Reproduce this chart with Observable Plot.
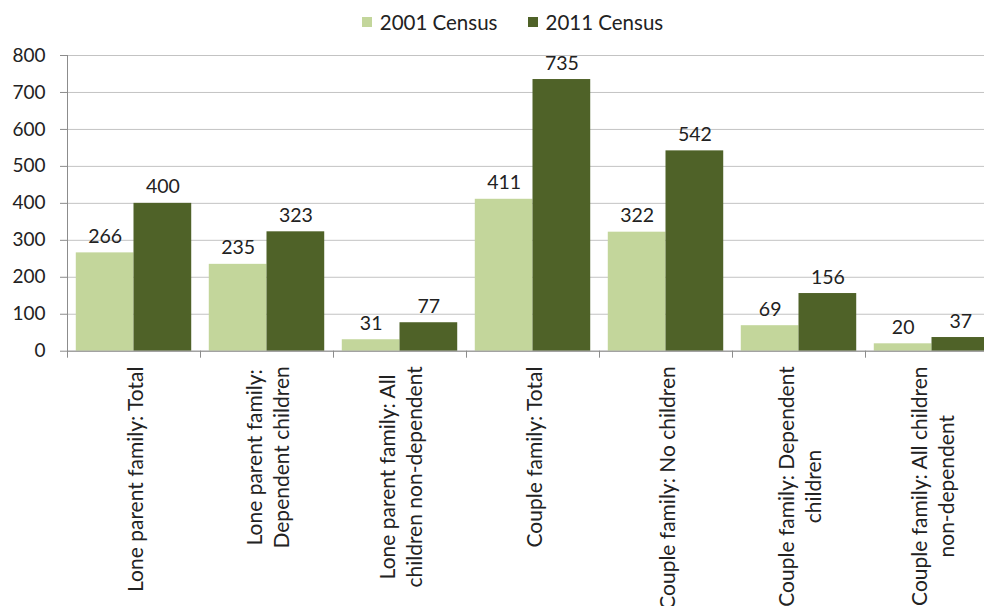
<!DOCTYPE html>
<html><head><meta charset="utf-8">
<script src="https://cdn.jsdelivr.net/npm/d3@7"></script>
<script src="https://cdn.jsdelivr.net/npm/@observablehq/plot@0.6"></script>
<style>
html,body{margin:0;padding:0;background:#fff;overflow:hidden;width:984px;height:606px;}
#legend{height:44px;width:984px;display:flex;justify-content:center;align-items:center;padding-left:41px;box-sizing:border-box;font-family:Lato,sans-serif;font-size:20.5px;color:#222;gap:30px}
.item{display:flex;align-items:center}
.sw{width:10px;height:10px;margin-right:8px}
#chart{width:984px;height:562px;overflow:hidden}
#chart svg{display:block}
</style></head>
<body><div id="legend"></div><div id="chart"></div>
<script>
const categories = [
  "Lone parent family: Total",
  "Lone parent family: Dependent children",
  "Lone parent family: All children non-dependent",
  "Couple family: Total",
  "Couple family: No children",
  "Couple family: Dependent children",
  "Couple family: All children non-dependent"
];
const tickLabels = [
  "Lone parent family: Total",
  "Lone parent family:\nDependent children",
  "Lone parent family: All\nchildren non-dependent",
  "Couple family: Total",
  "Couple family: No children",
  "Couple family: Dependent\nchildren",
  "Couple family: All children\nnon-dependent"
];
const series = ["2001 Census", "2011 Census"];
const values2001 = [266, 235, 31, 411, 322, 69, 20];
const values2011 = [400, 323, 77, 735, 542, 156, 37];
const yTicks = [0, 100, 200, 300, 400, 500, 600, 700, 800];
const colors = ["#c3d69b", "#4f6228"];

// legend
const legend = document.getElementById("legend");
series.forEach((s, i) => {
  const it = document.createElement("div"); it.className = "item";
  const sw = document.createElement("div"); sw.className = "sw"; sw.style.background = colors[i];
  const tx = document.createElement("span"); tx.textContent = s;
  it.appendChild(sw); it.appendChild(tx); legend.appendChild(it);
});

const W = 984, H = 562, ML = 67, MR = -14, MT = 11, MB = 255.3;
const bw = (W - ML - MR) / categories.length;
const outer = bw * 0.066;
const half = bw / 2;
const barCenter = (outer + half) / 2 - half;

const rows1 = categories.map((c, i) => ({category: c, value: values2001[i]}));
const rows2 = categories.map((c, i) => ({category: c, value: values2011[i]}));

const LF = 21;
const ctx = document.createElement("canvas").getContext("2d");
ctx.font = LF + "px Lato";
const labelMarks = categories.map((c, i) => {
  const w = d3.max(tickLabels[i].split("\n"), l => ctx.measureText(l).width);
  return Plot.text([c], {
    x: d => d, frameAnchor: "bottom", text: () => tickLabels[i],
    rotate: -90, textAnchor: "middle", lineAnchor: "middle",
    dy: 15 + w / 2, fill: "#222", fontSize: LF, lineHeight: 1.28
  });
});

const chart = Plot.plot({
  width: W, height: H,
  marginLeft: ML, marginRight: MR, marginTop: MT, marginBottom: MB,
  style: {fontFamily: "Lato, sans-serif", fontSize: "19px", background: "#fff", overflow: "hidden"},
  x: {type: "band", domain: categories, padding: 0, axis: null},
  y: {domain: [0, 800], axis: null},
  marks: [
    Plot.gridY(yTicks, {stroke: "#c3c3c3", strokeOpacity: 1}),
    Plot.barY(rows1, {x: "category", y: "value", fill: colors[0], insetLeft: outer, insetRight: half}),
    Plot.barY(rows2, {x: "category", y: "value", fill: colors[1], insetLeft: half, insetRight: outer}),
    Plot.ruleY([0], {stroke: "#8c8c8c"}),
    Plot.frame({anchor: "left", stroke: "#8c8c8c"}),
    Plot.axisY({ticks: yTicks, tickSize: 7, tickPadding: 15, stroke: "#8c8c8c", fill: "#222", fontSize: 19, label: null}),
    Plot.axisX({ticks: categories, tickSize: 7, tickFormat: () => "", stroke: "#8c8c8c", dx: -bw / 2, label: null}),
    Plot.text(rows1, {x: "category", y: "value", text: d => String(d.value), dx: barCenter, dy: -10, lineAnchor: "bottom", fill: "#222", fontSize: 19.5}),
    Plot.text(rows2, {x: "category", y: "value", text: d => String(d.value), dx: -barCenter, dy: -10, lineAnchor: "bottom", fill: "#222", fontSize: 19.5}),
    ...labelMarks
  ]
});
document.getElementById("chart").appendChild(chart);
</script>
</body></html>
